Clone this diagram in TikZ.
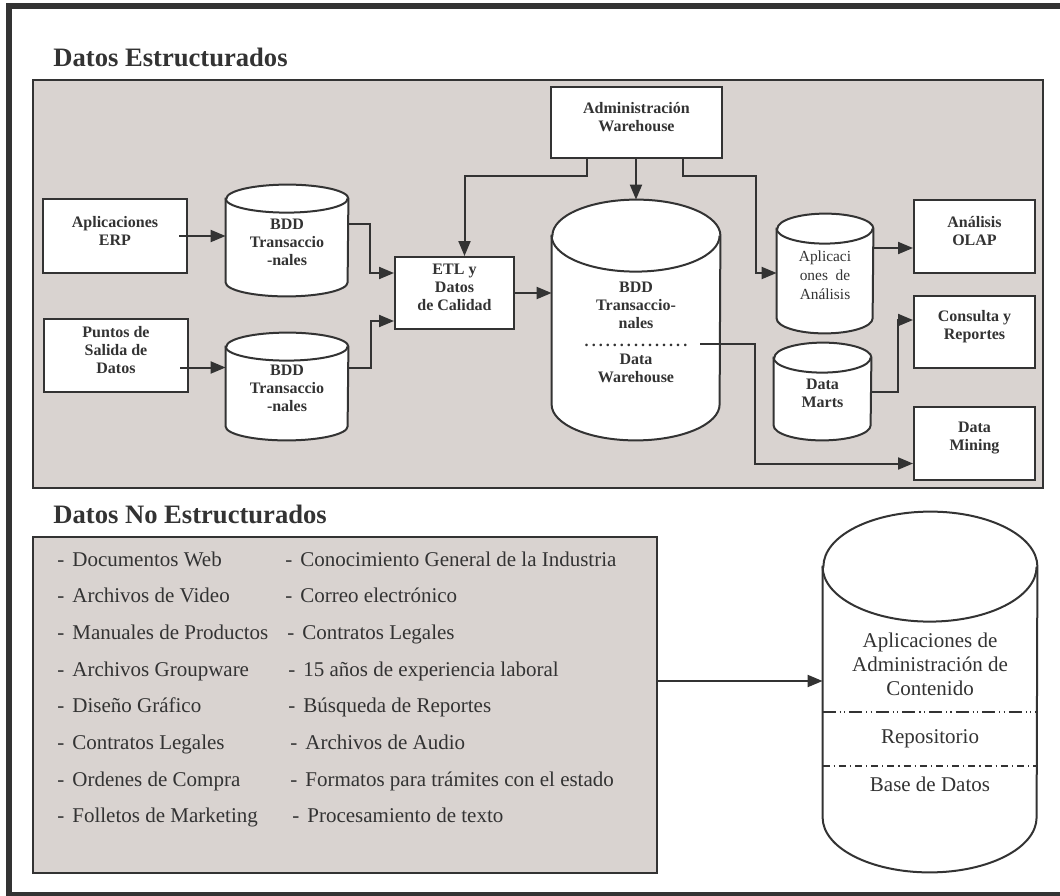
\documentclass[tikz,border=0pt]{standalone}
\usepackage{fontspec}
\setmainfont{Liberation Serif}
\usetikzlibrary{arrows.meta, positioning, fit, calc, backgrounds}
\definecolor{ink}{RGB}{51,51,51}
\definecolor{panelgray}{RGB}{217,211,208}
\tikzset{
    >={Triangle[length=7.5pt, width=6pt]},
    outerframe/.style={draw=ink, line width=2.7pt},
    panel/.style={draw=ink, fill=panelgray, line width=0.8pt, inner sep=0pt},
    box/.style={draw=ink, fill=white, line width=1pt, inner sep=0pt, align=center,
        font=\fontsize{8}{9}\selectfont\bfseries},
    uptext/.style={text depth=6pt},
    db/.style={inner sep=0pt, align=center, font=\fontsize{8}{9}\selectfont\bfseries},
    dbline/.style={draw=ink, line width=1pt},
    heading/.style={anchor=base west, inner sep=0pt, font=\fontsize{13.3}{16}\selectfont\bfseries},
    listitem/.style={anchor=base west, inner sep=0pt, font=\fontsize{10.5}{12}\selectfont},
    link/.style={->, draw=ink, line width=1pt}
}
% cylinder outline round a db node: name, x radius, y radius
\newcommand{\dbdraw}[3]{%
    \begin{scope}[on background layer]
        \filldraw[dbline, fill=white] (#1.north west) -- ($(#1.south west)+(0,-#3)$)
            arc[start angle=180, end angle=0, x radius=#2, y radius=#3]
            -- (#1.north east)
            arc[start angle=0, end angle=-180, x radius=#2, y radius=#3] -- cycle;
        \draw[dbline] (#1.north west) arc[start angle=180, end angle=0, x radius=#2, y radius=#3];
    \end{scope}
}

\begin{document}
\begin{tikzpicture}[x=0.5pt, y=-0.5pt, color=ink]
    \useasboundingbox (0, 0) rectangle (1060, 895);
    % frame
    \draw[outerframe] (8.8, 5.8) rectangle (1063, 894.5);
    % panels
    \begin{scope}[on background layer]
        \node[panel, fit={(33, 80) (1043, 488)}] (estr) {};
        \node[panel, fit={(33, 537) (657, 873)}] (noest) {};
    \end{scope}
    \node[heading] (hEst) at (53, 66) {Datos Estructurados};
    \node[heading] (hNoEst) at (53, 523) {Datos No Estructurados};

    % boxes
    \node[box, uptext, fit={(43, 199) (187, 273)}] (erp) {Aplicaciones\\ERP};
    \node[box, fit={(44, 319) (188, 392)}] (puntos) {Puntos de\\Salida de\\Datos};
    \node[box, fit={(395, 257) (514, 329)}] (etl) {ETL y\\Datos\\de Calidad};
    \node[box, uptext, fit={(551, 87) (722, 158)}] (admin) {Administración\\Warehouse};
    \node[box, uptext, fit={(914, 200) (1035, 273)}] (olap) {Análisis\\OLAP};
    \node[box, uptext, fit={(914, 296) (1035, 368)}] (consulta) {Consulta y\\Reportes};
    \node[box, uptext, fit={(914, 407) (1035, 480)}] (mining) {Data\\Mining};

    % cylinders
    \node[db, fit={(226, 199) (348, 296)}] (bdd1) {BDD\\Transaccio\\-nales};
    \dbdraw{bdd1}{61}{14}
    \node[db, fit={(226, 347) (348, 440)}] (bdd2) {BDD\\Transaccio\\-nales};
    \dbdraw{bdd2}{61}{14}
    \node[db, fit={(552, 236) (720, 440)}] (dw)
        {BDD\\Transaccio-\\nales\\\makebox[53pt]{\dotfill}\\Data\\Warehouse};
    \dbdraw{dw}{84}{36}
    \node[db, font=\fontsize{7.7}{9.5}\selectfont, fit={(777, 229) (873, 333)}] (apps)
        {Aplicaci\\ones\ \ de\\Análisis};
    \dbdraw{apps}{48}{15}
    \node[db, fit={(774, 358) (871, 440)}] (marts) {Data\\Marts};
    \dbdraw{marts}{48.5}{15}
    \node[db, font=\fontsize{10.5}{12}\selectfont, fit={(823, 567) (1037, 872)}] (repo)
        {Aplicaciones de\\Administración de\\Contenido\\[12pt]Repositorio\\[12pt]Base de Datos};
    \dbdraw{repo}{107}{55}
    \draw[ink, line width=0.8pt, dash pattern=on 6.5pt off 2pt on 0.6pt off 1.6pt on 0.6pt off 2pt]
        ([yshift=3.75pt]repo.west) -- ([yshift=3.75pt]repo.east);
    \draw[ink, line width=0.8pt, dash pattern=on 3.5pt off 2pt on 0.6pt off 2pt]
        ([yshift=-23.25pt]repo.west) -- ([yshift=-23.25pt]repo.east);

    % list
    \foreach \l/\r/\rx [count=\i] in {
        Documentos Web/Conocimiento General de la Industria/285,
        Archivos de Video/Correo electrónico/285,
        Manuales de Productos/Contratos Legales/287,
        Archivos Groupware/15 años de experiencia laboral/288,
        Diseño Gráfico/Búsqueda de Reportes/288,
        Contratos Legales/Archivos de Audio/290,
        Ordenes de Compra/Formatos para trámites con el estado/290,
        Folletos de Marketing/Procesamiento de texto/292} {
        \node[listitem] (l\i) at (57, {529.3 + 36.7*\i}) {-\hspace{4pt}\l};
        \node[listitem] (r\i) at (\rx, {529.3 + 36.7*\i}) {-\hspace{4pt}\r};
    }

    % arrows
    \coordinate (p1) at ([xshift=-4.5pt, yshift=-6pt]puntos.east);
    \draw[link] ([xshift=-4.5pt]erp.east) -- (erp.east -| bdd1.west);
    \draw[link] (p1) -- (p1 -| bdd2.west);
    \draw[link] ([yshift=12pt]bdd1.east) -- ++(22, 0) |- ([yshift=10pt]etl.west);
    \draw[link] ([yshift=13pt]bdd2.east) -- ++(23, 0) |- ([yshift=-14pt]etl.west);
    \draw[link] (etl.east) -- (etl.east -| dw.west);
    \draw[link] ([xshift=-25pt]admin.south) -- ++(0, 17) -| ([xshift=5pt]etl.north);
    \draw[link] (admin.south -| dw.north) -- ([yshift=18pt]dw.north);
    \draw[link] ([xshift=23pt]admin.south) -- ++(0, 17) -- ++(73, 0) |- ([yshift=4pt]apps.west);
    \coordinate (a1) at ([yshift=16.5pt]apps.east);
    \draw[link] (a1) -- (a1 -| olap.west);
    \draw[link] ([yshift=3.5pt]marts.east) -- ++(27, 0) |- ([yshift=6pt]consulta.west);
    \draw[link] ([xshift=-10pt, yshift=-3pt]dw.east) -- ++(55, 0) |- ([yshift=-10pt]mining.west);
    \coordinate (b1) at ([yshift=12pt]noest.east);
    \draw[link] (b1) -- (b1 -| repo.west);
\end{tikzpicture}
\end{document}
